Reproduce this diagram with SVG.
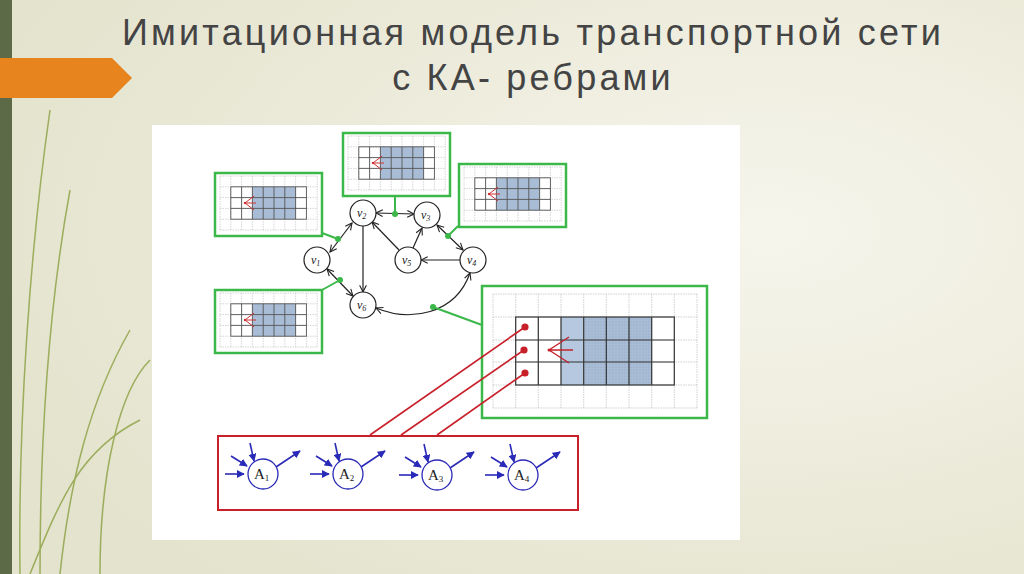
<svg xmlns="http://www.w3.org/2000/svg" xmlns:xlink="http://www.w3.org/1999/xlink" width="1024" height="574" viewBox="0 0 1024 574">
<defs>
<radialGradient id="bg" cx="0.75" cy="0.4" r="0.8"><stop offset="0" stop-color="#f6f5ec"/><stop offset="1" stop-color="#e4e3cd"/></radialGradient>
<pattern id="stip" width="3" height="3" patternUnits="userSpaceOnUse"><rect width="3" height="3" fill="#aabdd6"/><circle cx="1" cy="1" r="0.6" fill="#8ea4c0"/></pattern>
<marker id="ah" viewBox="0 0 10 10" refX="9" refY="5" markerWidth="7" markerHeight="7" orient="auto-start-reverse"><path d="M1,1 L9,5 L1,9" fill="none" stroke="#222" stroke-width="1.3"/></marker>
<marker id="ba" viewBox="0 0 10 10" refX="9" refY="5" markerWidth="5" markerHeight="5" orient="auto"><path d="M0,0 L10,5 L0,10 z" fill="#2a2ab8"/></marker>
<g id="sg">
<rect width="107" height="63" fill="#fff" stroke="#3cb84a" stroke-width="2.5"/>
<g stroke="#bbb" stroke-width="0.6" stroke-dasharray="1.5,1">
<path d="M5,3h97M5,13.8h97M5,24.6h97M5,35.4h97M5,46.2h97M5,57h97"/>
<path d="M5,3v54M15.8,3v54M26.6,3v54M37.4,3v54M48.2,3v54M59,3v54M69.8,3v54M80.6,3v54M91.4,3v54M102.2,3v54"/>
</g>
<rect x="37.4" y="13.8" width="43.2" height="32.4" fill="#a9bcd6"/>
<g fill="none" stroke="#555" stroke-width="0.9">
<rect x="15.8" y="13.8" width="75.6" height="32.4"/>
<path d="M15.8,24.6h75.6M15.8,35.4h75.6M26.6,13.8v32.4M37.4,13.8v32.4M48.2,13.8v32.4M59,13.8v32.4M69.8,13.8v32.4M80.6,13.8v32.4"/>
</g>
<path d="M30,30 L39,23 M30,30 L41,30 M30,30 L39,37" stroke="#d03030" stroke-width="1" fill="none"/>
<circle cx="30" cy="30" r="1.2" fill="#d03030"/>
</g>
<g id="aut">
<path class="ba" d="M-38,0 H-19" marker-end="url(#ba)"/>
<path class="ba" d="M-32,-18 L-16,-8" marker-end="url(#ba)"/>
<path class="ba" d="M-13,-31 L-9,-13" marker-end="url(#ba)"/>
<path class="ba" d="M13,-7 L37,-23" marker-end="url(#ba)"/>
<circle class="ad" cx="0" cy="0" r="15"/>
</g>
</defs>
<style>
.t{font-family:"Liberation Sans",Arial,sans-serif;font-size:36px;fill:#444;letter-spacing:3.2px}
.nd{fill:#fff;stroke:#222;stroke-width:1.2}
.lb{font-family:"Liberation Serif",serif;font-style:italic;font-size:12px;fill:#222}
.e{fill:none;stroke:#222;stroke-width:1.2}
.g{stroke:#3cb84a;stroke-width:2;fill:none}
.ad{fill:#fff;stroke:#2a2ab8;stroke-width:1.3}
.ba{stroke:#2a2ab8;stroke-width:1.6;fill:none}
.al{font-family:"Liberation Serif",serif;font-size:15px;fill:#222}
</style>
<rect width="1024" height="574" fill="url(#bg)"/>
<rect x="0" y="0" width="12" height="574" fill="#5d6a48"/>
<path d="M0,58 H112 L132,78 L112,98 H0 Z" fill="#e8841e"/>
<g fill="none" stroke="#8aa040" stroke-width="1.5" opacity="0.8">
<path d="M20,574 C18,420 30,250 50,110"/>
<path d="M40,574 C40,430 50,300 70,190"/>
<path d="M60,574 C70,480 90,400 130,330"/>
<path d="M100,574 C100,470 120,390 150,360"/>
<path d="M30,574 C60,500 80,450 140,420"/>
</g>
<text class="t" x="533" y="45" text-anchor="middle">Имитационная модель транспортной сети</text>
<text class="t" x="533" y="90" text-anchor="middle">с КА- ребрами</text>
<rect x="152" y="125" width="588" height="415" fill="#fff"/>

<g id="connectors">
<path class="e" d="M330,252 L352,223" marker-start="url(#ah)" marker-end="url(#ah)"/>
<path class="e" d="M376,213 L414,214" marker-start="url(#ah)" marker-end="url(#ah)"/>
<path class="e" d="M363,226 L363,292" marker-end="url(#ah)"/>
<path class="e" d="M399,250 L372,222" marker-end="url(#ah)"/>
<path class="e" d="M413,248 L422,228" marker-end="url(#ah)"/>
<path class="e" d="M460,260 L421,260" marker-end="url(#ah)"/>
<path class="e" d="M437,225 L463,250" marker-start="url(#ah)" marker-end="url(#ah)"/>
<path class="e" d="M327,269 L353,296" marker-start="url(#ah)" marker-end="url(#ah)"/>
<path class="e" d="M376,308 C410,322 455,315 470,273" marker-start="url(#ah)" marker-end="url(#ah)"/>
<path class="g" d="M395,214 V196"/><circle cx="395" cy="214" r="3" fill="#3cb84a"/>
<path class="g" d="M338,239 L322,233"/><circle cx="338" cy="239" r="3" fill="#3cb84a"/>
<path class="g" d="M448,236 L458,226"/><circle cx="448" cy="236" r="3" fill="#3cb84a"/>
<path class="g" d="M340,280 L322,290"/><circle cx="340" cy="280" r="3" fill="#3cb84a"/>
<path class="g" d="M433,307 L482,325"/><circle cx="433" cy="307" r="3" fill="#3cb84a"/>
</g>

<g id="box-top-left"><use xlink:href="#sg" x="215" y="173"/></g>
<g id="box-top-center"><use xlink:href="#sg" x="343" y="133"/></g>
<g id="box-top-right"><use xlink:href="#sg" x="459" y="164"/></g>
<g id="box-bottom-left"><use xlink:href="#sg" x="215" y="290"/></g>

<g id="v1"><circle class="nd" cx="317" cy="260" r="13"/><text class="lb" x="311" y="264">v<tspan font-size="8" dy="2">1</tspan></text></g>
<g id="v2"><circle class="nd" cx="363" cy="213" r="13"/><text class="lb" x="357" y="217">v<tspan font-size="8" dy="2">2</tspan></text></g>
<g id="v3"><circle class="nd" cx="427" cy="215" r="13"/><text class="lb" x="421" y="219">v<tspan font-size="8" dy="2">3</tspan></text></g>
<g id="v4"><circle class="nd" cx="473" cy="260" r="13"/><text class="lb" x="467" y="264">v<tspan font-size="8" dy="2">4</tspan></text></g>
<g id="v5"><circle class="nd" cx="408" cy="260" r="13"/><text class="lb" x="402" y="264">v<tspan font-size="8" dy="2">5</tspan></text></g>
<g id="v6"><circle class="nd" cx="363" cy="305" r="13"/><text class="lb" x="357" y="309">v<tspan font-size="8" dy="2">6</tspan></text></g>

<g id="box-big">
<rect x="482" y="286" width="225" height="132" fill="#fff" stroke="#3cb84a" stroke-width="2.5"/>
<g stroke="#bbb" stroke-width="0.7" stroke-dasharray="1.5,1">
<path d="M493,294h204M493,317h204M493,340h204M493,362h204M493,385h204M493,408h204"/>
<path d="M493,294v114M515.7,294v114M538.3,294v114M561,294v114M583.7,294v114M606.3,294v114M629,294v114M651.7,294v114M674.3,294v114M697,294v114"/>
</g>
<rect x="561" y="317" width="22.7" height="68" fill="#b5c8e0"/>
<rect x="583.7" y="317" width="68" height="68" fill="url(#stip)"/>
<g fill="none" stroke="#333" stroke-width="1.2">
<rect x="515.7" y="317" width="158.6" height="68"/>
<path d="M515.7,340h158.6M515.7,362h158.6M538.3,317v68M561,317v68M583.7,317v68M606.3,317v68M629,317v68M651.7,317v68"/>
</g>
<path d="M549,350 L569,337 M549,350 L573,350 M549,350 L569,363" stroke="#c8202a" stroke-width="1.4" fill="none"/>
<circle cx="549" cy="350" r="1.5" fill="#c8202a"/>
</g>

<g id="automata">
<rect x="218" y="436" width="360" height="74" fill="#fff" stroke="#c8202a" stroke-width="2"/>
<g id="A1"><use xlink:href="#aut" x="263" y="474"/><text class="al" x="254" y="479">A<tspan font-size="9" dy="2">1</tspan></text></g>
<g id="A2"><use xlink:href="#aut" x="348" y="474"/><text class="al" x="339" y="479">A<tspan font-size="9" dy="2">2</tspan></text></g>
<g id="A3"><use xlink:href="#aut" x="437" y="475"/><text class="al" x="428" y="480">A<tspan font-size="9" dy="2">3</tspan></text></g>
<g id="A4"><use xlink:href="#aut" x="523" y="475"/><text class="al" x="514" y="480">A<tspan font-size="9" dy="2">4</tspan></text></g>
</g>

<g id="red-links" stroke="#c8202a" stroke-width="1.6">
<path d="M525,327 L370,435"/><path d="M524,350 L401,435"/><path d="M525,373 L437,435"/>
<circle cx="525" cy="327" r="2.8" fill="#c8202a"/>
<circle cx="524" cy="350" r="2.8" fill="#c8202a"/>
<circle cx="525" cy="373" r="2.8" fill="#c8202a"/>
</g>
</svg>
